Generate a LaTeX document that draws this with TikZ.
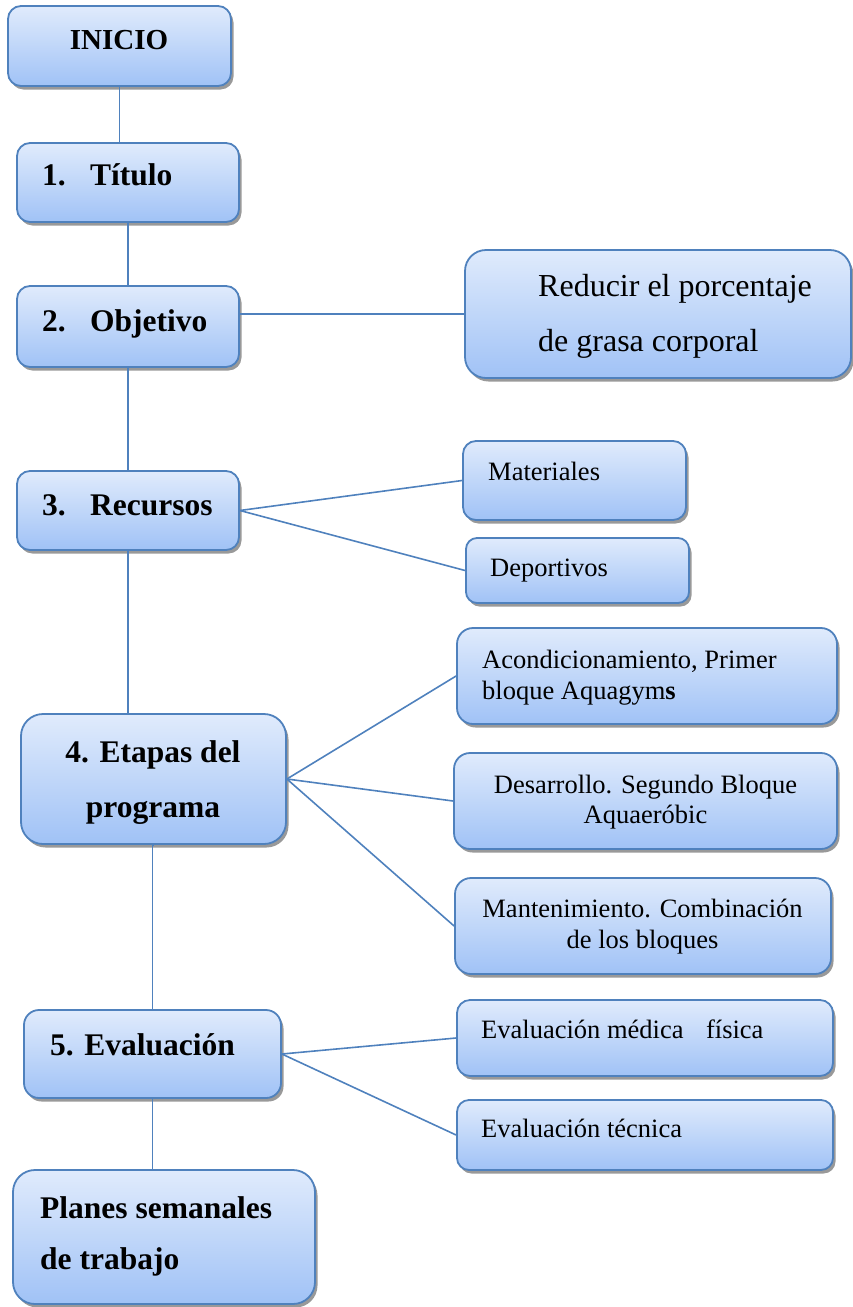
\documentclass[tikz,border=0pt]{standalone}
\usepackage{fontspec}
\setmainfont{Liberation Serif}
\usetikzlibrary{shadows}
\definecolor{cardline}{RGB}{79,129,189}
\definecolor{cardtop}{RGB}{224,235,252}
\definecolor{cardbot}{RGB}{160,194,246}
\definecolor{shadowgray}{RGB}{135,135,135}

\begin{document}
\begin{tikzpicture}[x=1pt,y=-1pt,
  card/.style={draw=cardline, line width=1.8pt, top color=cardtop, bottom color=cardbot,
    rounded corners=#1, inner sep=0pt,
    drop shadow={shadow xshift=2.5pt, shadow yshift=-3.5pt, fill=shadowgray, opacity=0.85}},
  card/.default=13pt,
  link/.style={draw=cardline, line width=1.6pt},
  head/.style={font=\fontsize{31.5}{36}\selectfont\bfseries, inner sep=0pt},
  big/.style={font=\fontsize{32}{36}\selectfont, inner sep=0pt},
  small/.style={font=\fontsize{26.5}{30}\selectfont, inner sep=0pt},
]
\useasboundingbox (0,0) rectangle (853,1307);

% ---- boxes of the main column ----
\node[card=13pt, minimum width=223pt, minimum height=80pt] (inicio) at (119.5,46) {};
\node[card=13pt, minimum width=222pt, minimum height=79pt] (titulo) at (128,182.5) {};
\node[card=13pt, minimum width=222pt, minimum height=81pt] (objetivo) at (128,326.5) {};
\node[card=13pt, minimum width=222pt, minimum height=79pt] (recursos) at (128,510.5) {};
\node[card=22pt, minimum width=265pt, minimum height=130pt] (etapas) at (153.5,779) {};
\node[card=15pt, minimum width=257pt, minimum height=88pt] (evaluacion) at (152.5,1054) {};
\node[card=22pt, minimum width=302pt, minimum height=134pt] (planes) at (164,1237) {};

% ---- boxes of the side column ----
\node[card=21pt, minimum width=386pt, minimum height=128pt] (reducir) at (658,314) {};
\node[card=13pt, minimum width=223pt, minimum height=79pt] (materiales) at (574.5,480.5) {};
\node[card=11pt, minimum width=223pt, minimum height=65pt] (deportivos) at (577.5,570.5) {};
\node[card=16pt, minimum width=380pt, minimum height=96pt] (acond) at (647,676) {};
\node[card=16pt, minimum width=383pt, minimum height=96pt] (desarr) at (645.5,801) {};
\node[card=16pt, minimum width=376pt, minimum height=96pt] (mant) at (643,926) {};
\node[card=13pt, minimum width=376pt, minimum height=76pt] (medica) at (645,1038) {};
\node[card=12pt, minimum width=376pt, minimum height=70pt] (tecnica) at (645,1135) {};

% ---- texts of the main column ----
\node[head, font=\fontsize{29}{34}\selectfont\bfseries, anchor=base] (inicio-t) at (119,49) {INICIO};
\node[head, anchor=base west] (titulo-t) at (42,185) {\makebox[48pt][l]{1.}Título};
\node[head, anchor=base west] (objetivo-t) at (42,331) {\makebox[48pt][l]{2.}Objetivo};
\node[head, anchor=base west] (recursos-t) at (42,515) {\makebox[48pt][l]{3.}Recursos};
\node[head, anchor=base] (etapas-t1) at (153,762) {4. Etapas del};
\node[head, anchor=base] (etapas-t2) at (153,817) {programa};
\node[head, anchor=base west] (evaluacion-t) at (50,1055) {5. Evaluación};
\node[head, anchor=base west] (planes-t1) at (40,1218) {Planes semanales};
\node[head, anchor=base west] (planes-t2) at (40,1269) {de trabajo};

% ---- texts of the side column ----
\node[big, anchor=base west] (reducir-t1) at (538,296) {Reducir el porcentaje};
\node[big, anchor=base west] (reducir-t2) at (538,351) {de grasa corporal};
\node[small, anchor=base west] (materiales-t) at (488,480) {Materiales};
\node[small, anchor=base west] (deportivos-t) at (490,576) {Deportivos};
\node[small, anchor=base west] (acond-t1) at (482,668) {Acondicionamiento, Primer};
\node[small, anchor=base west] (acond-t2) at (482,699) {bloque Aquagym\textbf{s}};
\node[small, anchor=base] (desarr-t1) at (645.5,793) {Desarrollo. Segundo Bloque};
\node[small, anchor=base] (desarr-t2) at (645.5,823) {Aquaeróbic};
\node[small, anchor=base] (mant-t1) at (642.5,917) {Mantenimiento. Combinación};
\node[small, anchor=base] (mant-t2) at (642.5,948) {de los bloques};
\node[small, anchor=base west] (medica-t) at (481,1038) {Evaluación médica\hspace{0.85em}física};
\node[small, anchor=base west] (tecnica-t) at (481,1137) {Evaluación técnica};

% ---- connectors ----
\draw[link] (inicio.south) -- (inicio.south |- titulo.north);
\draw[link] (titulo.south) -- (titulo.south |- objetivo.north);
\draw[link] (objetivo.south) -- (objetivo.south |- recursos.north);
\draw[link] (objetivo.east |- reducir.west) -- (reducir.west);
\draw[link] (recursos.south) -- (recursos.south |- etapas.north);
\draw[link] (recursos.east) -- (materiales.west);
\draw[link] (recursos.east) -- (deportivos.west);
\draw[link] (etapas.east) -- (acond.west);
\draw[link] (etapas.east) -- (desarr.west);
\draw[link] (etapas.east) -- (mant.west);
\draw[link] (etapas.south) -- (etapas.south -| evaluacion.north) -- (evaluacion.north);
\draw[link] (evaluacion.east) -- (medica.west);
\draw[link] (evaluacion.east) -- (tecnica.west);
\draw[link] (evaluacion.south) -- (evaluacion.south |- planes.north);
\end{tikzpicture}
\end{document}
